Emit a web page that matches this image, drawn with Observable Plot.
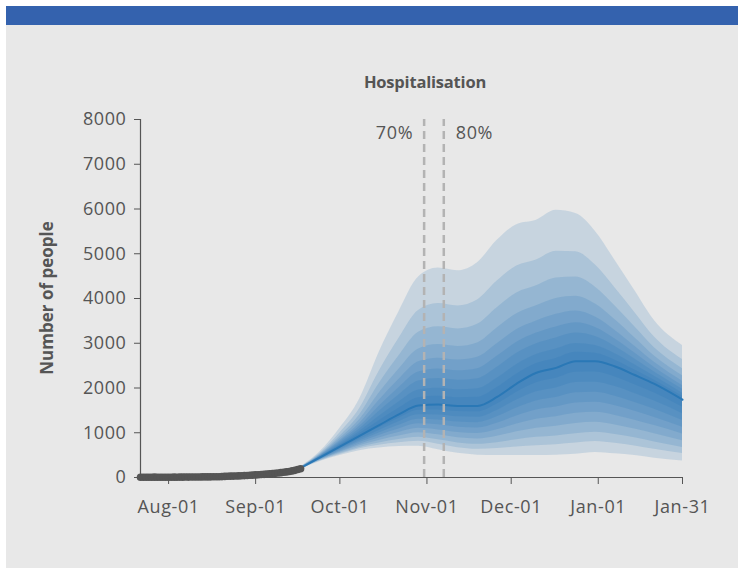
<!DOCTYPE html>
<html>
<head>
<meta charset="utf-8">
<script src="https://cdn.jsdelivr.net/npm/d3@7"></script>
<script src="https://cdn.jsdelivr.net/npm/@observablehq/plot@0.6"></script>
<style>
  html, body { margin: 0; padding: 0; background: #ffffff; }
  body { width: 738px; height: 570px; position: relative; overflow: hidden; font-family: "Open Sans", sans-serif; }
  #bar { position: absolute; left: 6px; top: 6px; right: 0; height: 19px; background: #3462ae; }
  #panel { position: absolute; left: 6px; top: 25px; right: 0; height: 543px; background: #e8e8e8; }
  #title { position: absolute; left: 325px; width: 200px; top: 72px; line-height: 20px; text-align: center;
           font-weight: 700; font-size: 16.5px; color: #555; letter-spacing: -0.2px; }
  #ylabel { position: absolute; left: -53px; width: 200px; top: 288px; line-height: 20px; text-align: center;
            font-weight: 700; font-size: 17px; color: #555; transform: rotate(-90deg); }
  #chart { position: absolute; left: 0; top: 0; }
  #chart svg text { letter-spacing: 0.6px; }
</style>
</head>
<body>
<div id="bar"></div>
<div id="panel"></div>
<div id="chart"></div>
<div id="title">Hospitalisation</div>
<div id="ylabel">Number of people</div>
<script>
// ---- Data ----
const xDomain = ["2020-07-22", "2021-01-31"];
const xTickDates = ["2020-08-01", "2020-09-01", "2020-10-01", "2020-11-01", "2020-12-01", "2021-01-01", "2021-01-31"];
const yTicks = [0, 1000, 2000, 3000, 4000, 5000, 6000, 7000, 8000];

// Observed daily admissions (dots), from 2020-07-22 to 2020-09-17
const obsStart = "2020-07-22";
const obsValues = [
  6, 5, 7, 5, 6, 8, 6, 7, 5, 6,
  7, 6, 8, 7, 9, 8, 10, 9, 11, 10,
  12, 11, 13, 14, 13, 15, 16, 18, 17, 20,
  25, 27, 30, 31, 34, 36, 39, 42, 45, 49, 53,
  58, 61, 66, 70, 75, 80, 86, 93, 100, 108,
  116, 125, 135, 147, 160, 178, 195
];

// Projection quantiles (5%..95%)
const projDates = ["2020-09-17", "2020-09-24", "2020-10-01", "2020-10-08", "2020-10-15", "2020-10-22", "2020-10-29",
  "2020-11-05", "2020-11-12", "2020-11-19", "2020-11-26", "2020-12-03", "2020-12-10", "2020-12-17",
  "2020-12-24", "2020-12-31", "2021-01-07", "2021-01-14", "2021-01-21", "2021-01-31"];
const q05 = [190, 360, 490, 600, 660, 690, 700, 620, 540, 500, 490, 490, 490, 500, 520, 560, 530, 490, 430, 370];
const q10 = [192, 371, 514, 640, 721, 776, 809, 741, 667, 632, 647, 683, 712, 734, 770, 805, 764, 706, 629, 534];
const q15 = [194, 380, 534, 673, 772, 848, 900, 842, 773, 742, 778, 844, 897, 929, 978, 1009, 959, 886, 795, 671];
const q20 = [197, 390, 556, 709, 828, 928, 1000, 953, 890, 863, 922, 1021, 1101, 1144, 1206, 1233, 1174, 1084, 978, 822];
const q25 = [199, 400, 578, 745, 884, 1007, 1100, 1064, 1006, 984, 1066, 1198, 1304, 1358, 1435, 1458, 1388, 1282, 1160, 973];
const q30 = [201, 410, 600, 782, 941, 1086, 1201, 1176, 1123, 1105, 1211, 1376, 1508, 1573, 1664, 1682, 1603, 1480, 1343, 1124];
const q35 = [203, 419, 622, 818, 997, 1165, 1301, 1287, 1240, 1226, 1355, 1553, 1711, 1787, 1893, 1906, 1817, 1678, 1526, 1274];
const q40 = [205, 429, 644, 854, 1053, 1244, 1401, 1398, 1356, 1347, 1499, 1730, 1915, 2002, 2122, 2131, 2032, 1876, 1708, 1425];
const q45 = [208, 439, 666, 890, 1109, 1324, 1501, 1509, 1473, 1468, 1643, 1907, 2118, 2216, 2350, 2355, 2246, 2074, 1891, 1576];
const q50 = [210, 450, 690, 930, 1170, 1410, 1610, 1630, 1600, 1600, 1800, 2100, 2340, 2450, 2600, 2600, 2480, 2290, 2090, 1740];
const q55 = [212, 458, 715, 979, 1268, 1547, 1782, 1813, 1781, 1792, 2010, 2313, 2545, 2661, 2798, 2774, 2622, 2403, 2175, 1813];
const q60 = [213, 466, 739, 1028, 1366, 1685, 1954, 1996, 1962, 1984, 2220, 2526, 2749, 2872, 2996, 2948, 2764, 2517, 2260, 1885];
const q65 = [215, 475, 768, 1086, 1480, 1845, 2155, 2210, 2174, 2208, 2465, 2775, 2988, 3119, 3227, 3151, 2930, 2649, 2360, 1970];
const q70 = [217, 484, 797, 1143, 1594, 2005, 2356, 2423, 2385, 2432, 2710, 3023, 3227, 3365, 3458, 3354, 3096, 2781, 2459, 2055];
const q75 = [219, 494, 829, 1209, 1724, 2189, 2586, 2667, 2627, 2688, 2990, 3307, 3499, 3647, 3722, 3586, 3286, 2933, 2573, 2151];
const q80 = [221, 507, 870, 1291, 1887, 2418, 2873, 2972, 2929, 3008, 3340, 3662, 3840, 3999, 4052, 3876, 3523, 3122, 2715, 2272];
const q85 = [224, 524, 924, 1397, 2099, 2715, 3246, 3369, 3321, 3424, 3795, 4124, 4284, 4456, 4481, 4253, 3831, 3367, 2899, 2430];
const q90 = [229, 546, 993, 1537, 2376, 3105, 3734, 3887, 3835, 3968, 4390, 4727, 4863, 5055, 5042, 4746, 4234, 3689, 3141, 2635];
const q95 = [235, 580, 1100, 1750, 2800, 3700, 4480, 4680, 4620, 4800, 5300, 5650, 5750, 5970, 5900, 5500, 4850, 4180, 3510, 2950];

// Threshold markers
const cutDates = ["2020-10-31", "2020-11-07"];
const cutLabels = ["70%", "80%"];

// ---- Build tables ----
const parse = s => new Date(s + "T00:00:00Z");
const obs = obsValues.map((v, i) => ({date: d3.utcDay.offset(parse(obsStart), i), value: v}));
const qs = {q05, q10, q15, q20, q25, q30, q35, q40, q45, q50, q55, q60, q65, q70, q75, q80, q85, q90, q95};
const proj = projDates.map((d, i) => {
  const row = {date: parse(d)};
  for (const k in qs) row[k] = qs[k][i];
  return row;
});
const bands = [["q05","q95"],["q10","q90"],["q15","q85"],["q20","q80"],["q25","q75"],["q30","q70"],["q35","q65"],["q40","q60"],["q45","q55"]];
const cuts = cutDates.map((d, i) => ({date: parse(d), label: cutLabels[i]}));

const blue = "#1f6fb2";
const chart = Plot.plot({
  width: 738,
  height: 570,
  marginLeft: 140,
  marginRight: 56,
  marginTop: 119,
  marginBottom: 93,
  style: {background: "transparent", fontFamily: "Open Sans, sans-serif", fontSize: "18px", color: "#555", overflow: "visible"},
  x: {type: "utc", domain: xDomain.map(parse), axis: null},
  y: {domain: [0, 8000], axis: null},
  marks: [
    ...bands.map(([lo, hi]) => Plot.areaY(proj, {x: "date", y1: lo, y2: hi, fill: blue, fillOpacity: 0.16, curve: "monotone-x"})),
    Plot.line(proj, {x: "date", y: "q50", stroke: "#2a78b6", strokeWidth: 2, curve: "monotone-x"}),
    Plot.ruleX(cuts, {x: "date", y1: 0, y2: 8000, stroke: "#b3b3b3", strokeWidth: 2.5, strokeDasharray: "8,5"}),
    Plot.text(cuts.slice(0, 1), {x: "date", text: "label", frameAnchor: "top", dy: 7, dx: -11, textAnchor: "end", fill: "#555", fontSize: 18}),
    Plot.text(cuts.slice(1), {x: "date", text: "label", frameAnchor: "top", dy: 7, dx: 12, textAnchor: "start", fill: "#555", fontSize: 18}),
    Plot.ruleY([0], {stroke: "#555", strokeWidth: 1.2}),
    Plot.ruleX([parse(xDomain[0])], {y1: 0, y2: 8000, stroke: "#555", strokeWidth: 1.2}),
    Plot.dot(obs, {x: "date", y: "value", r: 3.8, fill: "#555", stroke: null}),
    Plot.axisX(xTickDates.map(parse), {tickSize: 7, tickPadding: 16, tickFormat: d3.utcFormat("%b-%d"), label: null, fontSize: 18}),
    Plot.axisY(yTicks, {tickSize: 6, tickPadding: 8, tickFormat: d => String(d), label: null, fontSize: 18})
  ]
});
document.getElementById("chart").appendChild(chart);
</script>
</body>
</html>
